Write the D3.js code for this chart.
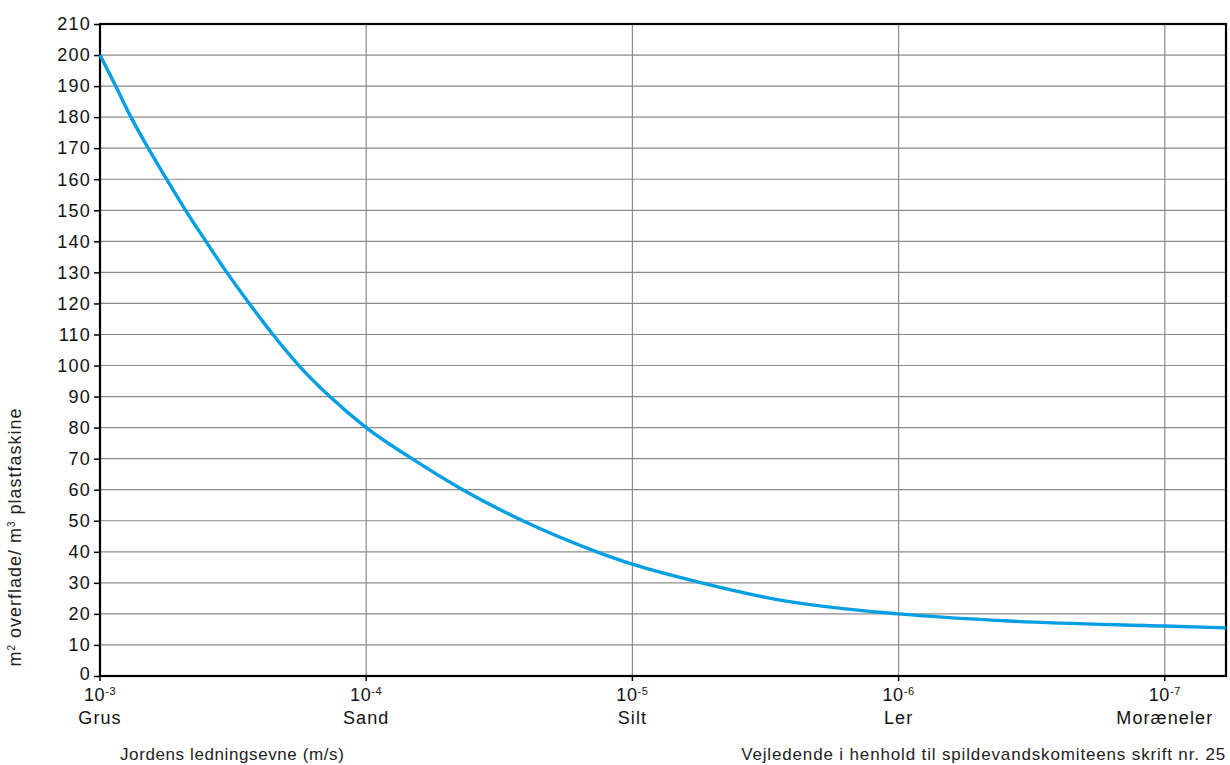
<!DOCTYPE html>
<html>
<head>
<meta charset="utf-8">
<script src="https://cdn.jsdelivr.net/npm/d3@7"></script>
<style>
  body { margin: 0; background: #fff; }
  svg { font-family: "Liberation Sans", Arial, sans-serif; }
</style>
</head>
<body>
<div id="chart"></div>
<script>
// hydraulic conductivity (m/s)
const conductivity = [1e-3, 8.73e-4, 7.65e-4, 6.59e-4, 5.62e-4, 4.77e-4, 4.0e-4, 3.34e-4, 2.75e-4, 2.24e-4, 1.79e-4, 1.37e-4,
    1e-4, 6.73e-5, 4.34e-5, 2.58e-5, 1.36e-5, 1e-5, 5.5e-6, 2.89e-6, 1e-6, 3.83e-7, 1e-7, 5.89e-8];
// m2 surface per m3 plastfaskine
const area = [200, 190, 180, 170, 160, 150, 140, 130, 120, 110, 100, 90,
    80, 70, 60, 50, 40, 36, 30, 24.7, 20, 17.7, 16.1, 15.5];

const xTicks = [1e-3, 1e-4, 1e-5, 1e-6, 1e-7];
const xExponents = ["-3", "-4", "-5", "-6", "-7"];
const soilTypes = ["Grus", "Sand", "Silt", "Ler", "Moræneler"];
const yTicks = d3.range(0, 211, 10);

const width = 1230, height = 765;
const margin = {left: 100, top: 24, right: 4, bottom: 89};

const svg = d3.select("#chart").append("svg")
    .attr("width", width)
    .attr("height", height);

const x = d3.scaleLog()
    .domain([1e-3, Math.pow(10, -7.23)])
    .range([margin.left, width - margin.right]);

const y = d3.scaleLinear()
    .domain([0, 210])
    .range([height - margin.bottom, margin.top]);

// horizontal grid
svg.append("g")
    .selectAll("line")
    .data(yTicks.slice(1, -1))
    .enter().append("line")
        .attr("x1", x.range()[0])
        .attr("x2", x.range()[1])
        .attr("y1", d => y(d))
        .attr("y2", d => y(d))
        .attr("stroke", "#8a8a8a")
        .attr("stroke-width", 1.2);

// vertical grid
svg.append("g")
    .selectAll("line")
    .data(xTicks.slice(1))
    .enter().append("line")
        .attr("x1", d => x(d))
        .attr("x2", d => x(d))
        .attr("y1", y(0))
        .attr("y2", y(210))
        .attr("stroke", "#8a8a8a")
        .attr("stroke-width", 1.2);

// y axis
const yAxis = svg.append("g")
    .attr("transform", `translate(${margin.left},0)`)
    .call(d3.axisLeft(y).tickValues(yTicks).tickSize(6).tickPadding(3));
yAxis.select(".domain").remove();
yAxis.selectAll(".tick line").attr("stroke", "#000").attr("stroke-width", 1.5);
yAxis.selectAll(".tick text")
    .attr("font-size", 18)
    .attr("letter-spacing", 1.2)
    .attr("fill", "#111")
    .attr("font-family", "Liberation Sans, Arial, sans-serif");
// the zero label sits a touch higher so it clears the 10^-3 label
yAxis.selectAll(".tick text").filter(d => d === 0).attr("dy", "0.2em");

// x axis ticks
const xg = svg.append("g");
xg.selectAll("line")
    .data(xTicks)
    .enter().append("line")
        .attr("x1", d => x(d))
        .attr("x2", d => x(d))
        .attr("y1", y(0))
        .attr("y2", y(0) + 5)
        .attr("stroke", "#000")
        .attr("stroke-width", 1.5);

const powLabels = xg.selectAll("text.pow")
    .data(xTicks)
    .enter().append("text")
        .attr("class", "pow")
        .attr("x", d => x(d))
        .attr("y", y(0) + 25)
        .attr("text-anchor", "middle")
        .attr("font-size", 18)
        .attr("letter-spacing", 0.6)
        .attr("fill", "#111");
powLabels.append("tspan").text("10");
powLabels.append("tspan")
    .attr("dy", -6)
    .attr("font-size", 11)
    .text((d, i) => xExponents[i]);

xg.selectAll("text.soil")
    .data(xTicks)
    .enter().append("text")
        .attr("class", "soil")
        .attr("x", d => x(d))
        .attr("y", y(0) + 48)
        .attr("text-anchor", "middle")
        .attr("font-size", 18)
        .attr("letter-spacing", 1.1)
        .attr("fill", "#111")
        .text((d, i) => soilTypes[i]);

// frame
svg.append("rect")
    .attr("x", x.range()[0])
    .attr("y", y(210))
    .attr("width", x.range()[1] - x.range()[0])
    .attr("height", y(0) - y(210))
    .attr("fill", "none")
    .attr("stroke", "#000")
    .attr("stroke-width", 2.2);

// curve
const points = conductivity.map((k, i) => [x(k), y(area[i])]);
svg.append("path")
    .datum(points)
    .attr("fill", "none")
    .attr("stroke", "#009fe3")
    .attr("stroke-width", 3.4)
    .attr("d", d3.line().curve(d3.curveMonotoneX));

// titles
svg.append("text")
    .attr("transform", "translate(21,537) rotate(-90)")
    .attr("text-anchor", "middle")
    .attr("font-size", 18)
    .attr("letter-spacing", 1.0)
    .attr("fill", "#222")
    .call(t => {
        t.append("tspan").text("m");
        t.append("tspan").attr("dy", -6).attr("font-size", 10).text("2");
        t.append("tspan").attr("dy", 6).text(" overflade/ m");
        t.append("tspan").attr("dy", -6).attr("font-size", 10).text("3");
        t.append("tspan").attr("dy", 6).text(" plastfaskine");
    });

svg.append("text")
    .attr("x", 120)
    .attr("y", 760)
    .attr("font-size", 17)
    .attr("letter-spacing", 0.6)
    .attr("fill", "#222")
    .text("Jordens ledningsevne (m/s)");

svg.append("text")
    .attr("x", 1226)
    .attr("y", 760)
    .attr("text-anchor", "end")
    .attr("font-size", 17)
    .attr("letter-spacing", 0.85)
    .attr("fill", "#222")
    .text("Vejledende i henhold til spildevandskomiteens skrift nr. 25");
</script>
</body>
</html>
